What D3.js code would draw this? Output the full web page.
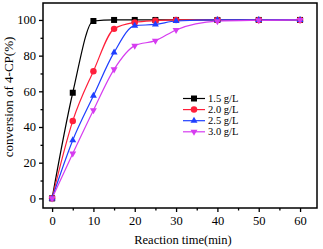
<!DOCTYPE html>
<html>
<head>
<meta charset="utf-8">
<script src="https://cdn.jsdelivr.net/npm/d3@7"></script>
<style>
  body { margin: 0; background: #fff; }
  svg text { font-family: "Liberation Serif", "Times New Roman", serif !important; }
</style>
</head>
<body>
<div id="chart"></div>
<script>
// data
const times = [0, 5, 10, 15, 20, 25, 30, 40, 50, 60];
const conv15 = [0, 59.2, 99.4, 100, 100, 100, 100, 100, 100, 100];
const conv20 = [0, 43.4, 71.3, 95, 98.6, 99.6, 100, 100, 100, 100];
const conv25 = [0, 32.6, 57.5, 81.8, 96.8, 97.5, 99.4, 100, 100, 100];
const conv30 = [0, 25.1, 49.4, 72.3, 85.6, 88.4, 94.4, 99.3, 99.8, 100];
const seriesNames = ["1.5 g/L", "2.0 g/L", "2.5 g/L", "3.0 g/L"];
const xTicks = [0, 10, 20, 30, 40, 50, 60];
const yTicks = [0, 20, 40, 60, 80, 100];

const series = [
  { name: seriesNames[0], values: conv15, color: "#000000", shape: d3.symbolSquare, size: 36, rot: 0 },
  { name: seriesNames[1], values: conv20, color: "#ff1f3a", shape: d3.symbolCircle, size: 33, rot: 0 },
  { name: seriesNames[2], values: conv25, color: "#1f3fff", shape: d3.symbolTriangle, size: 21, rot: 0 },
  { name: seriesNames[3], values: conv30, color: "#d63cf0", shape: d3.symbolTriangle, size: 21, rot: 180 },
];

const chartWidth = 323;
const chartHeight = 249;
const margin = { top: 3, right: 6, bottom: 41, left: 43 };

const svg = d3
  .select("#chart")
  .append("svg")
  .attr("width", chartWidth)
  .attr("height", chartHeight);

const x = d3.scaleLinear().domain([-2.2, 64.1]).range([margin.left, chartWidth - margin.right]);
const y = d3.scaleLinear().domain([-5.4, 109.5]).range([chartHeight - margin.bottom, margin.top]);

// lines
const line = d3
  .line()
  .x((d) => x(d[0]))
  .y((d) => y(d[1]))
  .curve(d3.curveMonotoneX);

series.forEach((s) => {
  const pts = times.map((t, i) => [t, s.values[i]]);
  svg
    .append("path")
    .datum(pts)
    .attr("d", line)
    .attr("fill", "none")
    .attr("stroke", s.color)
    .attr("stroke-width", 1.2);
});

// markers
series.forEach((s) => {
  svg
    .selectAll(null)
    .data(times.map((t, i) => [t, s.values[i]]))
    .enter()
    .append("path")
    .attr("d", d3.symbol().type(s.shape).size(s.size))
    .attr("transform", (d) => `translate(${x(d[0])},${y(d[1])}) rotate(${s.rot})`)
    .attr("fill", s.color);
});

// axes
svg
  .append("g")
  .attr("transform", `translate(0,${chartHeight - margin.bottom})`)
  .call(d3.axisBottom(x).tickValues(xTicks).tickSize(4).tickPadding(4));
svg
  .append("g")
  .attr("transform", `translate(0,${chartHeight - margin.bottom})`)
  .call(d3.axisBottom(x).tickValues(d3.range(5, 65, 10)).tickSize(2.5).tickFormat(""));

svg
  .append("g")
  .attr("transform", `translate(${margin.left},0)`)
  .call(d3.axisLeft(y).tickValues(yTicks).tickSize(4).tickPadding(3));
svg
  .append("g")
  .attr("transform", `translate(${margin.left},0)`)
  .call(d3.axisLeft(y).tickValues(d3.range(10, 110, 20)).tickSize(2.5).tickFormat(""));

svg.selectAll(".domain").remove();
svg.selectAll(".tick line").attr("stroke", "#000").attr("stroke-width", 1.3);
svg.selectAll(".tick text").attr("fill", "#000").attr("font-size", 12.5);

// frame
svg
  .append("rect")
  .attr("x", margin.left)
  .attr("y", margin.top)
  .attr("width", chartWidth - margin.left - margin.right)
  .attr("height", chartHeight - margin.top - margin.bottom)
  .attr("fill", "none")
  .attr("stroke", "#000")
  .attr("stroke-width", 1.5);

// axis titles
svg
  .append("text")
  .attr("x", 183)
  .attr("y", 244)
  .attr("text-anchor", "middle")
  .attr("font-size", 12.5)
  .text("Reaction time(min)");

svg
  .append("text")
  .attr("transform", "translate(13,97) rotate(-90)")
  .attr("text-anchor", "middle")
  .attr("font-size", 13)
  .text("conversion of 4-CP(%)");

// legend
const legend = svg
  .append("g")
  .selectAll("g")
  .data(series)
  .enter()
  .append("g")
  .attr("transform", (d, i) => `translate(183,${98.5 + i * 11.1})`);

legend
  .append("line")
  .attr("x1", 0)
  .attr("x2", 22)
  .attr("stroke", (d) => d.color)
  .attr("stroke-width", 1.2);

legend
  .append("path")
  .attr("d", (d) => d3.symbol().type(d.shape).size(d.size)())
  .attr("transform", (d) => `translate(11,0) rotate(${d.rot})`)
  .attr("fill", (d) => d.color);

legend
  .append("text")
  .attr("x", 25)
  .attr("y", 3.5)
  .attr("font-size", 10.5)
  .text((d) => d.name);
</script>
</body>
</html>
